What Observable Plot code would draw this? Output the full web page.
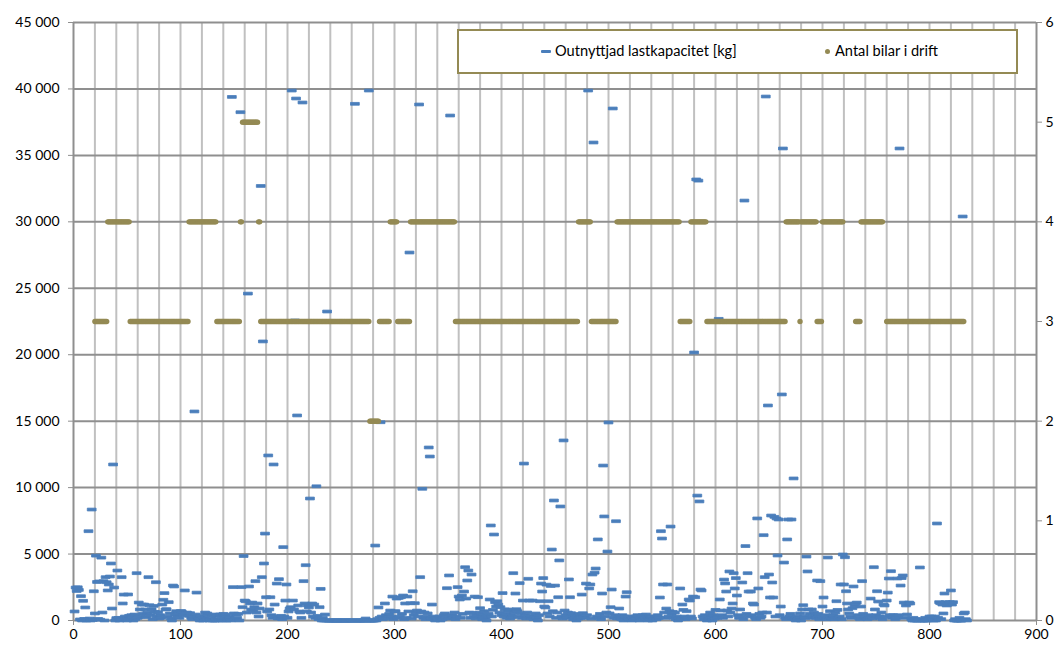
<!DOCTYPE html>
<html><head><meta charset="utf-8">
<script src="https://cdn.jsdelivr.net/npm/d3@7"></script>
<script src="https://cdn.jsdelivr.net/npm/@observablehq/plot@0.6"></script>
<style>
body{margin:0;background:#fff;font-family:Lato,"Open Sans",sans-serif;}
#wrap{position:relative;width:1058px;height:648px;}
#legend{position:absolute;left:457px;top:29px;width:557px;height:41px;border:2px solid #948A54;background:#fff;font-size:14.6px;color:#000;}
#legend .item{position:absolute;top:11px;white-space:nowrap;line-height:18px;}
#legend .dash{display:inline-block;width:10px;height:3px;background:#4A7EBB;border-radius:1px;vertical-align:middle;margin-right:4px;position:relative;top:-1px;}
#legend .dot{display:inline-block;width:5px;height:5px;background:#948A54;border-radius:50%;vertical-align:middle;margin-right:5px;position:relative;top:-1px;}
</style></head>
<body><div id="wrap"></div>
<script>
// Outnyttjad lastkapacitet [kg], one value per x = 1..835
const unusedKg = [
680,2480,2220,2500,2300,80,1830,0,1480,120,980,0,60,6720,150,0,8350,40,2200,530,
4880,2900,120,2940,60,4730,600,2960,0,3260,2880,2260,2710,3310,4290,900,11740,2480,0,180,
3760,200,0,50,3260,1280,1950,300,150,0,1960,350,80,400,250,0,450,120,3560,200,
1350,830,300,1200,500,1200,830,250,600,3260,1150,400,850,100,1100,650,2880,300,620,150,
400,200,1200,1560,2060,830,850,300,1380,530,150,0,2630,2560,450,700,300,530,200,700,
700,600,400,2260,500,600,530,350,550,200,100,300,15730,450,2100,250,150,0,350,100,
0,200,600,50,530,400,0,100,300,0,450,0,100,380,0,400,450,150,0,500,
200,450,0,100,300,200,0,39400,2510,530,100,450,200,500,0,38250,2510,1000,4850,1500,
1450,600,24600,2560,1280,830,1350,700,1000,2960,600,1280,300,900,32700,3260,21000,4290,6540,1750,
680,12420,830,1750,400,200,11740,1200,300,2780,150,3110,200,350,100,5520,300,1500,2710,200,
680,900,1000,39880,1500,830,22580,39280,15430,1130,680,600,200,38980,2960,1280,4160,680,1130,980,
9180,600,1280,300,1200,200,10100,350,100,1000,2380,0,200,0,450,0,23250,0,0,0,
0,0,0,0,0,0,0,0,0,0,0,0,0,0,0,0,0,0,0,0,
0,0,38880,0,0,0,0,0,0,0,0,0,150,0,0,39880,0,0,0,0,
0,5640,0,100,980,200,14920,300,100,200,1280,400,150,300,500,750,300,1800,100,680,
700,1650,200,1700,300,1750,500,1880,100,1280,200,1800,680,27690,1300,150,2200,400,1300,600,
750,300,38830,3260,680,9910,200,600,100,300,530,13020,12340,150,1200,300,100,0,200,80,
150,300,0,200,100,400,530,200,2430,300,3390,38000,150,400,200,600,100,300,2510,1800,
1580,200,1880,500,2180,4010,1650,3010,3760,600,200,3460,550,300,1800,150,400,1750,600,925,
300,100,450,700,200,0,350,500,1580,7150,300,800,6470,1380,1050,1450,1200,600,1000,400,
2060,300,830,500,200,700,830,150,400,250,3560,600,2030,850,700,300,2810,530,200,1500,
11810,400,150,600,3140,1500,200,350,1500,100,300,530,200,0,400,1450,2780,2180,3190,1050,
980,2700,530,1450,300,2600,5340,700,9030,2630,200,600,1750,4520,8580,300,150,13550,750,400,
200,600,3090,1750,550,300,100,400,200,0,350,150,500,200,1950,550,300,200,2780,400,
39880,2410,2710,150,3460,35970,3600,3910,300,6100,200,500,100,2030,11660,7830,300,600,5190,14900,
530,1000,2330,38530,200,400,7470,150,300,900,200,100,400,0,300,1800,2130,200,100,300,
100,0,200,50,300,150,400,100,0,200,300,400,100,250,450,100,0,200,100,300,
0,150,300,200,100,400,200,1730,6720,6170,2710,600,200,900,2710,300,700,7070,500,650,
200,600,100,300,0,200,2410,100,1200,800,300,100,700,200,1580,1500,300,150,1800,20170,
1750,33190,9400,33100,8960,2330,2260,300,100,400,200,0,300,100,600,200,0,400,150,800,
300,200,22700,1580,750,400,200,3080,2790,2180,750,300,3690,600,900,1280,3560,2410,3190,1880,
400,200,830,300,2860,100,31600,5600,500,3560,2180,300,2180,400,1280,1200,200,100,7680,2410,
500,200,300,600,6420,3260,39430,600,16180,3460,1730,7900,2860,1730,7800,300,7680,4890,7600,400,
1050,17010,35520,4360,200,100,6100,7600,300,500,7600,200,10690,100,0,300,100,200,530,0,
830,1150,300,200,4810,3690,830,500,200,830,300,600,400,200,3010,500,100,2960,300,1050,
1730,200,400,100,4740,300,700,200,150,400,100,600,1450,800,200,300,2710,100,4970,2710,
4760,2200,1280,830,530,300,200,925,2560,1080,1280,1350,400,200,100,1050,2960,500,300,200,
300,100,400,200,1650,300,150,4010,830,400,2200,1430,300,200,600,100,1200,1130,300,1500,
2100,3160,400,3710,200,400,300,100,200,3160,400,35520,2630,3190,3390,1350,200,1130,450,1280,
1350,1280,100,0,200,0,100,0,0,50,3990,0,100,0,0,200,0,0,100,300,
200,300,100,0,300,0,7300,200,1380,1300,100,1200,530,2030,1380,1130,1200,1300,1380,2260,
1200,1380,0,100,0,0,0,200,0,0,30400,530,600,100,0
];

// Antal bilar i drift: runs of constant value [first x, last x, value]
const carRuns = [
[20,31,3],[32,52,4],[53,107,3],[108,133,4],[134,155,3],[156,157,4],[158,172,5],[173,174,4],
[175,276,3],[277,285,2],[286,295,3],[296,302,4],[303,314,3],[315,356,4],[357,471,3],[472,483,4],
[484,507,3],[508,566,4],[567,576,3],[577,591,4],[592,665,3],[666,678,4],[679,679,3],[680,694,4],
[695,699,3],[700,719,4],[731,735,3],[736,756,4],[760,832,3]
];

const xTicks = [0,100,200,300,400,500,600,700,800,900];
const leftTicks = [0,5000,10000,15000,20000,25000,30000,35000,40000,45000];
const rightTicks = [0,1,2,3,4,5,6];

const unused = unusedKg.map((v,i)=>({x:i+1, v}));
const cars = [];
for (const [a,b,n] of carRuns) for (let x=a; x<=b; x++) cars.push({x, n});

const K = 45000/6;
const dash = {draw(ctx){ ctx.moveTo(-4.4,-1.4); ctx.lineTo(4.4,-1.4); ctx.lineTo(4.4,1.4); ctx.lineTo(-4.4,1.4); ctx.closePath(); }};
const fmt = d => d3.format(",")(d).replace(/,/g," ");

const chart = Plot.plot({
  width:1058, height:648,
  marginLeft:73, marginRight:22, marginTop:22, marginBottom:28,
  x:{domain:[0,900], axis:null, label:null},
  y:{domain:[0,45000], axis:null, label:null},
  style:{fontFamily:'Lato,"Open Sans",sans-serif', fontSize:"14px", color:"#000", background:"#fff"},
  marks:[
    Plot.gridX(d3.range(20,900,20), {stroke:"#c0c0c0", strokeOpacity:1, strokeWidth:2}),
    Plot.gridY(leftTicks.slice(1), {stroke:"#8f8f8f", strokeOpacity:1, strokeWidth:2}),
    Plot.ruleX([0,900], {stroke:"#8f8f8f", strokeWidth:2}),
    Plot.ruleY([0], {stroke:"#8f8f8f", strokeWidth:2}),
    Plot.axisY(leftTicks, {anchor:"left", label:null, tickFormat:fmt, tickSize:5, tickPadding:9, stroke:"#8f8f8f", fill:"#000"}),
    Plot.axisY(rightTicks.map(d=>d*K), {anchor:"right", label:null, tickFormat:d=>String(Math.round(d/K)), tickSize:5, tickPadding:4, stroke:"#8f8f8f", fill:"#000"}),
    Plot.axisX(xTicks, {anchor:"bottom", label:null, tickSize:5, tickPadding:4, stroke:"#8f8f8f", fill:"#000"}),
    Plot.dot(unused, {x:"x", y:"v", symbol:dash, fill:"#4A7EBB", stroke:"#4A7EBB", strokeWidth:0.8, strokeLinejoin:"round"}),
    Plot.dot(cars, {x:"x", y:d=>d.n*K, r:2.7, fill:"#948A54", stroke:"none"})
  ]
});
const wrap = document.getElementById("wrap");
wrap.appendChild(chart);
const legend = document.createElement("div");
legend.id = "legend";
legend.innerHTML = '<div class="item" style="left:82px"><span class="dash"></span>Outnyttjad lastkapacitet [kg]</div>' +
  '<div class="item" style="left:366px"><span class="dot"></span>Antal bilar i drift</div>';
wrap.appendChild(legend);
</script>
</body></html>
